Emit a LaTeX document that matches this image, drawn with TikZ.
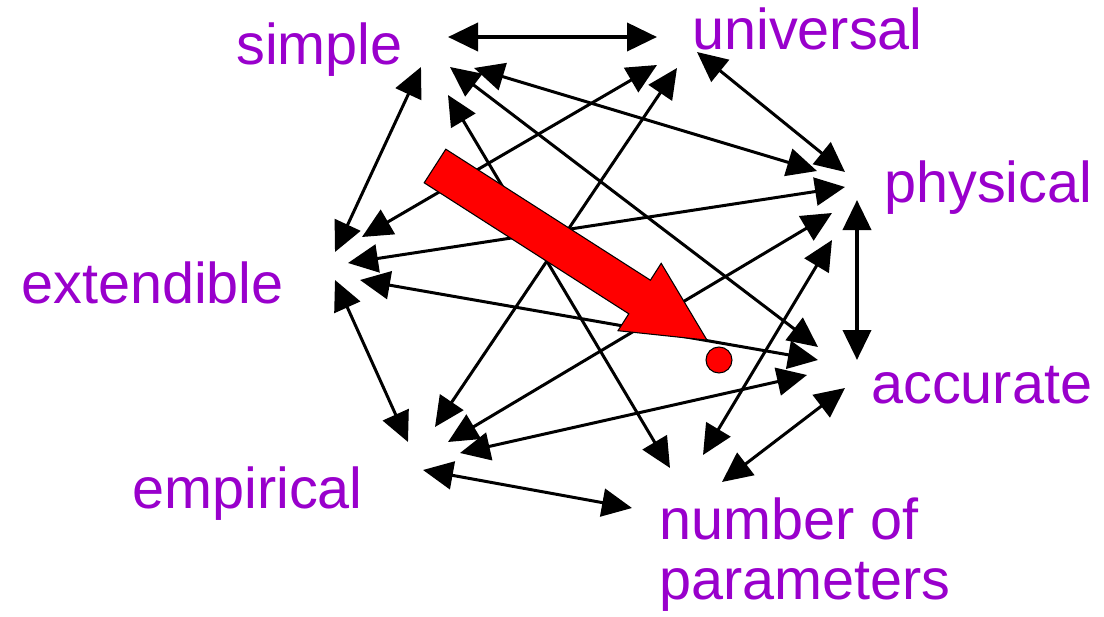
\documentclass[tikz,border=0pt]{standalone}
\usepackage{fontspec}
\setmainfont{Liberation Sans}
\usetikzlibrary{arrows.meta}
\definecolor{lblpurple}{RGB}{153,0,204}
\begin{document}
\begin{tikzpicture}[x=0.75pt,y=-0.75pt,
  lbl/.style={text=lblpurple,inner sep=0pt,anchor=base west,font=\fontsize{43.2}{45}\selectfont},
  link/.style={line width=2.25pt,{Triangle[length=22.5pt,width=21pt]}-{Triangle[length=22.5pt,width=21pt]}},
  thick link/.style={link,line width=3pt},
  bigarrow/.style={fill=red,draw=black,line width=0.8pt,line join=miter},
  dot/.style={circle,fill=red,draw=black,line width=0.8pt,minimum size=19.5pt,inner sep=0pt}]
\useasboundingbox (0,0) rectangle (1104,617);
% labels
\node[lbl] (simple) at (236,65) {simple};
\node[lbl] (universal) at (692,50) {universal};
\node[lbl] (physical) at (884,202) {physical};
\node[lbl] (extendible) at (21,303) {extendible};
\node[lbl] (accurate) at (871,403) {accurate};
\node[lbl] (empirical) at (132,508) {empirical};
\node[lbl,align=left] (params) at (659,599) {number of\\parameters};
% arrow ends
\coordinate (sU) at (448,37);  \coordinate (sX) at (421,67);  \coordinate (sA) at (450,67);
\coordinate (sP) at (474,68);  \coordinate (sN) at (448,95);
\coordinate (uS) at (657,37);  \coordinate (uX) at (657,65);  \coordinate (uE) at (677,68);
\coordinate (uP) at (697,52);
\coordinate (pU) at (845,172); \coordinate (pS) at (817,171); \coordinate (pX) at (845,187);
\coordinate (pE) at (832,213); \coordinate (pN) at (832,240); \coordinate (pA) at (857,200);
\coordinate (aP) at (857,360); \coordinate (aS) at (818,347); \coordinate (aX) at (818,360);
\coordinate (aE) at (807,375); \coordinate (aN) at (845,388);
\coordinate (nS) at (670,468); \coordinate (nP) at (703,455); \coordinate (nA) at (722,482);
\coordinate (nE) at (632,508);
\coordinate (eX) at (408,442); \coordinate (eU) at (435,427); \coordinate (eP) at (448,442);
\coordinate (eA) at (460,453); \coordinate (eN) at (423,470);
\coordinate (xS) at (335,252); \coordinate (xU) at (362,237); \coordinate (xP) at (348,263);
\coordinate (xA) at (360,280); \coordinate (xE) at (335,280);
% ring
\draw[thick link] (sU) -- (uS);
\draw[link] (uP) -- (pU);
\draw[thick link] (pA) -- (aP);
\draw[link] (aN) -- (nA);
\draw[link] (nE) -- (eN);
\draw[link] (eX) -- (xE);
\draw[link] (xS) -- (sX);
% chords
\draw[link] (sP) -- (pS);
\draw[link] (sA) -- (aS);
\draw[link] (sN) -- (nS);
\draw[link] (uX) -- (xU);
\draw[link] (uE) -- (eU);
\draw[link] (pX) -- (xP);
\draw[link] (pE) -- (eP);
\draw[link] (pN) -- (nP);
\draw[link] (aX) -- (xA);
\draw[link] (aE) -- (eA);
% big red arrow
\draw[bigarrow] (445.8,149.2) -- (650.4,280.2) -- (661.2,263.3) -- (707,340.1)
  -- (618,330.7) -- (628.8,313.8) -- (424.2,182.8) -- cycle;
\node[dot] (reddot) at (719,360) {};
\end{tikzpicture}
\end{document}
